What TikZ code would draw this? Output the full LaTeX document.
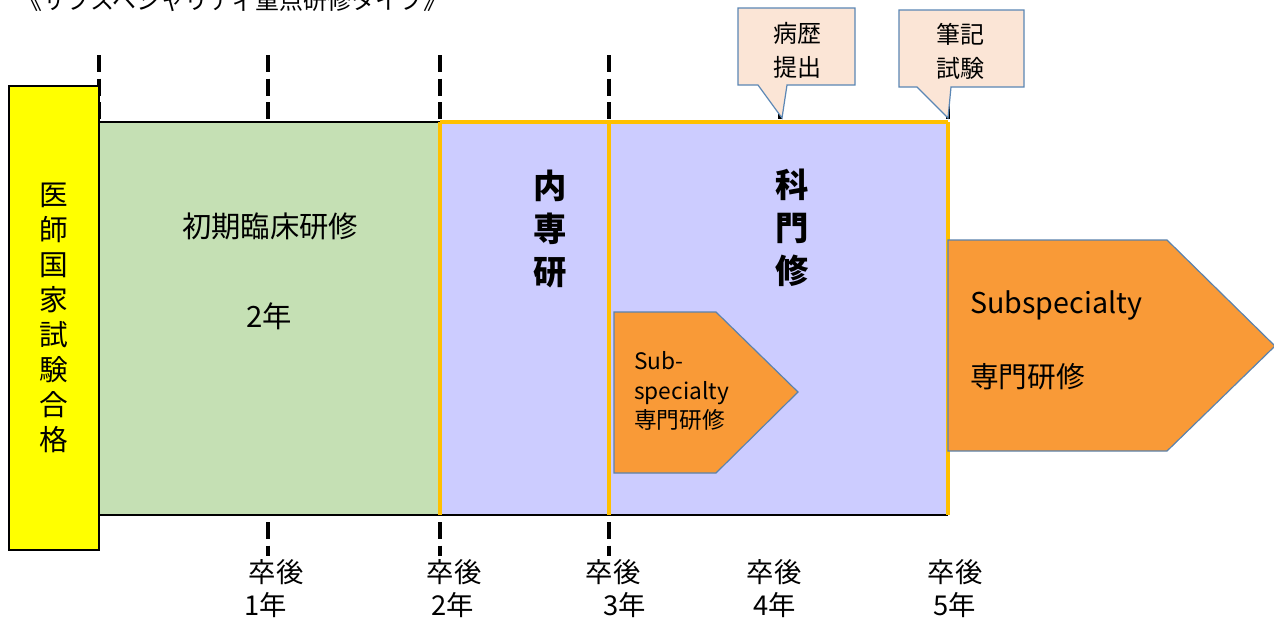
\documentclass[tikz,border=0pt]{standalone}
\usepackage{fontspec}
\setmainfont{Noto Sans CJK JP}
\definecolor{passyellow}{HTML}{FFFF00}
\definecolor{initgreen}{HTML}{C5E0B4}
\definecolor{lavender}{HTML}{CCCCFF}
\definecolor{goldline}{HTML}{FFC000}
\definecolor{arroworange}{HTML}{F99A37}
\definecolor{arrowedge}{HTML}{5A82AD}
\definecolor{calloutfill}{HTML}{FBE5D6}
\definecolor{calloutedge}{HTML}{5B87B5}
\tikzset{
  tick/.style={line width=2.6pt, dash pattern=on 12.8pt off 4.9pt},
  blackedge/.style={line width=1.6pt, black},
  goldedge/.style={line width=2.6pt, draw=goldline},
  arrowshape/.style={fill=arroworange, draw=arrowedge, line width=0.9pt, line join=miter},
  calloutshape/.style={fill=calloutfill, draw=calloutedge, line width=0.9pt},
  txt/.style={inner sep=0pt, text=black},
}
\begin{document}
\begin{tikzpicture}[x=0.75pt,y=-0.75pt]
\clip (0,0) rectangle (1274,619);
\fill[white] (0,0) rectangle (1274,619);

% title (cut at top)
\node[txt, anchor=base west, font=\fontsize{18pt}{20pt}\selectfont] (title) at (18,9) {《サブスペシャリティ重点研修タイプ》};

% dashed year ticks
\foreach \xx in {99,268,440,609,780,948} {
  \draw[tick] (\xx,55) -- (\xx,122);
}
\foreach \xx in {268,440,609} {
  \draw[tick] (\xx,522) -- (\xx,556);
}

% areas
\fill[initgreen] (99,122) rectangle (440,515);
\fill[lavender] (440,122) rectangle (948,515);
\draw[blackedge] (99,122) -- (440,122);
\draw[blackedge] (99,515) -- (948,515);
\draw[goldedge] (440,122) -- (948,122);
\draw[goldedge] (440,122) -- (440,515);
\draw[goldedge] (609,122) -- (609,515);
\draw[goldedge] (948,122) -- (948,515);

% yellow box
\node[draw=black, line width=1.6pt, fill=passyellow, minimum width=90*0.75pt, minimum height=464*0.75pt, inner sep=0pt] (pass) at (54,318) {};
\node[txt, align=center, font=\fontsize{21.5pt}{26.25pt}\selectfont] (passtxt) at (54,318) {医\\師\\国\\家\\試\\験\\合\\格};

% initial training text
\node[txt, font=\fontsize{22pt}{24pt}\selectfont] (init) at (270,226) {初期臨床研修};
\node[txt, font=\fontsize{22pt}{24pt}\selectfont] (inityr) at (269,316) {2年};

% bold vertical texts
\node[txt, align=center, font=\fontsize{25pt}{32.25pt}\selectfont\bfseries] (naisen) at (550,229) {内\\専\\研};
\node[txt, align=center, font=\fontsize{25pt}{32.25pt}\selectfont\bfseries] (kamon) at (792,228) {科\\門\\修};

% small subspecialty arrow
\draw[arrowshape] (614,312) -- (716,312) -- (798,392) -- (716,473) -- (614,473) -- cycle;
\node[txt, anchor=west, align=left, font=\fontsize{17pt}{22pt}\selectfont] (subsmall) at (634,391) {Sub-\\specialty\\専門研修};

% large subspecialty arrow
\draw[arrowshape] (948,240) -- (1167,240) -- (1275,346) -- (1167,451) -- (948,451) -- cycle;
\node[txt, anchor=west, font=\fontsize{21.5pt}{24pt}\selectfont] (subbig1) at (970,305) {Subspecialty};
\node[txt, anchor=west, font=\fontsize{21.5pt}{24pt}\selectfont] (subbig2) at (970,377) {専門研修};

% callouts
\draw[calloutshape] (738,8) -- (855,8) -- (855,85) -- (787,85) -- (782,118) -- (758,85) -- (738,85) -- cycle;
\node[txt, align=center, font=\fontsize{18pt}{25.5pt}\selectfont] (byoreki) at (797,50) {病歴\\提出};
\draw[calloutshape] (899,10) -- (1024,10) -- (1024,87) -- (951,87) -- (948,118) -- (917,87) -- (899,87) -- cycle;
\node[txt, align=center, font=\fontsize{18pt}{25.5pt}\selectfont] (hikki) at (960,51) {筆記\\試験};

% bottom labels
\tikzset{yrlab/.style={txt, font=\fontsize{20.5pt}{22pt}\selectfont}}
\node[yrlab] (s1) at (276,572) {卒後};
\node[yrlab] (y1) at (266,605) {1年};
\node[yrlab] (s2) at (454,572) {卒後};
\node[yrlab] (y2) at (453,605) {2年};
\node[yrlab] (s3) at (613,572) {卒後};
\node[yrlab] (y3) at (625,605) {3年};
\node[yrlab] (s4) at (774,572) {卒後};
\node[yrlab] (y4) at (775,605) {4年};
\node[yrlab] (s5) at (955,572) {卒後};
\node[yrlab] (y5) at (955,605) {5年};
\end{tikzpicture}
\end{document}
